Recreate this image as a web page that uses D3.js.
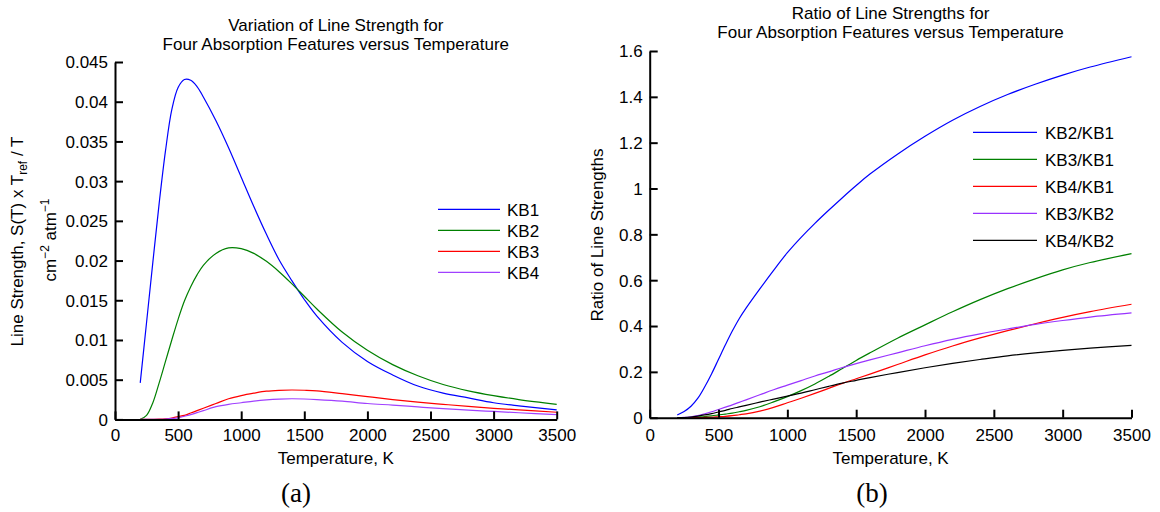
<!DOCTYPE html>
<html>
<head>
<meta charset="utf-8">
<script src="https://cdn.jsdelivr.net/npm/d3@7"></script>
<style>
  body { margin: 0; background: #fff; }
  svg text { font-family: "Liberation Sans", Arial, Helvetica, sans-serif; fill: #000; }
</style>
</head>
<body>
<svg id="fig" width="1160" height="512"></svg>
<script>
// Temperature grid, K
const temperatureK = [200, 250, 300, 350, 400, 450, 500, 550, 600, 650, 700, 800, 900, 1000, 1100,
  1200, 1300, 1400, 1500, 1600, 1800, 2000, 2200, 2400, 2600, 2800, 3000, 3200, 3500];

// (a) line strength S(T) x Tref / T, cm^-2 atm^-1
const kb1 = [0.0046, 0.0122, 0.0198, 0.0272, 0.0338, 0.0390, 0.0418, 0.0428, 0.0427, 0.0419, 0.0406,
  0.0376, 0.0342, 0.0305, 0.0268, 0.0233, 0.0201, 0.0175, 0.0151, 0.0130, 0.0097, 0.0073, 0.0056,
  0.0042, 0.0033, 0.0027, 0.0021, 0.0017, 0.0012];
const kb2 = [0, 0.0005, 0.0021, 0.0046, 0.0073, 0.0100, 0.0126, 0.0149, 0.0167, 0.0182, 0.0194,
  0.0209, 0.0216, 0.0215, 0.0209, 0.0199, 0.0186, 0.0171, 0.0155, 0.0139, 0.0110, 0.0087, 0.0069,
  0.0055, 0.0044, 0.0036, 0.0030, 0.0025, 0.0019];
const kb3 = [0, 0, 0.00001, 0.00003, 0.00008, 0.00018, 0.00035, 0.0005, 0.0008, 0.0011, 0.0014,
  0.0020, 0.0026, 0.0030, 0.0033, 0.00355, 0.00366, 0.0037, 0.00367, 0.0036, 0.00325, 0.00287,
  0.0025, 0.00218, 0.0019, 0.00163, 0.0014, 0.0012, 0.0009];
const kb4 = [0, 0, 0.00001, 0.00002, 0.00005, 0.00012, 0.0002, 0.0004, 0.0006, 0.00085, 0.0011,
  0.0016, 0.0019, 0.0021, 0.0023, 0.00245, 0.00255, 0.0026, 0.00257, 0.0025, 0.0023, 0.0020,
  0.0018, 0.00157, 0.00135, 0.00117, 0.0010, 0.00084, 0.0006];

// (b) ratios of line strengths
const kb2kb1 = [0.012, 0.027, 0.05, 0.085, 0.135, 0.192, 0.255, 0.318, 0.378, 0.432, 0.478, 0.562, 0.643,
  0.72, 0.787, 0.848, 0.905, 0.96, 1.013, 1.063, 1.15, 1.228, 1.298, 1.358, 1.41, 1.455, 1.495, 1.53, 1.575];
const kb3kb1 = [0, 0, 0.001, 0.003, 0.005, 0.008, 0.012, 0.016, 0.02, 0.026, 0.032, 0.048, 0.069,
  0.092, 0.118, 0.147, 0.18, 0.215, 0.25, 0.283, 0.347, 0.405, 0.462, 0.515, 0.563, 0.606, 0.645, 0.677, 0.716];
const kb4kb1 = [0, 0, 0, 0.0005, 0.001, 0.002, 0.004, 0.006, 0.009, 0.013, 0.017, 0.029, 0.045,
  0.065, 0.085, 0.106, 0.128, 0.15, 0.17, 0.19, 0.232, 0.274, 0.313, 0.348, 0.38, 0.41, 0.438, 0.463, 0.495];
const kb3kb2 = [0, 0.001, 0.004, 0.009, 0.017, 0.026, 0.036, 0.046, 0.056, 0.067, 0.078, 0.1, 0.122,
  0.142, 0.162, 0.182, 0.2, 0.219, 0.236, 0.252, 0.283, 0.314, 0.342, 0.366, 0.387, 0.407, 0.424, 0.439, 0.457];
const kb4kb2 = [0, 0.0005, 0.003, 0.007, 0.012, 0.018, 0.025, 0.032, 0.04, 0.047, 0.054, 0.068, 0.081,
  0.094, 0.107, 0.122, 0.137, 0.151, 0.163, 0.175, 0.197, 0.218, 0.237, 0.254, 0.27, 0.283, 0.294, 0.304, 0.316];

// Tick labels
const xTicks = [0, 500, 1000, 1500, 2000, 2500, 3000, 3500];
const yTicksA = [0, 0.005, 0.01, 0.015, 0.02, 0.025, 0.03, 0.035, 0.04, 0.045];
const yTicksB = [0, 0.2, 0.4, 0.6, 0.8, 1, 1.2, 1.4, 1.6];

const seriesA = [
  { name: "KB1", values: kb1, color: "#0000ff" },
  { name: "KB2", values: kb2, color: "#008000" },
  { name: "KB3", values: kb3, color: "#ff0000" },
  { name: "KB4", values: kb4, color: "#a040ff" }
];
const seriesB = [
  { name: "KB2/KB1", values: kb2kb1, color: "#0000ff" },
  { name: "KB3/KB1", values: kb3kb1, color: "#008000" },
  { name: "KB4/KB1", values: kb4kb1, color: "#ff0000" },
  { name: "KB3/KB2", values: kb3kb2, color: "#9933ff" },
  { name: "KB4/KB2", values: kb4kb2, color: "#000000" }
];

const svg = d3.select("#fig");
const FONT = 17;

function panel(cfg) {
  const x = d3.scaleLinear().domain([0, 3500]).range([cfg.left, cfg.right]);
  const y = d3.scaleLinear().domain([0, cfg.yMax]).range([cfg.bottom, cfg.top]);
  const g = svg.append("g");

  // curves
  const line = d3.line()
    .x((d, i) => x(temperatureK[i]))
    .y(d => y(Math.max(0, d)))
    .curve(d3.curveCatmullRom.alpha(0.5));
  cfg.series.forEach(s => {
    g.append("path")
      .attr("d", line(s.values))
      .attr("fill", "none")
      .attr("stroke", s.color)
      .attr("stroke-width", 1.2);
  });

  // x axis
  const gx = g.append("g")
    .attr("transform", `translate(0,${cfg.bottom})`)
    .call(d3.axisBottom(x).tickValues(xTicks).tickFormat(d3.format("d"))
      .tickSizeInner(-8).tickSizeOuter(0));
  gx.selectAll("text")
    .attr("y", 441 - cfg.bottom).attr("dy", null)
    .attr("font-size", FONT);
  gx.attr("font-family", null).attr("font-size", null);

  // y axis
  const gy = g.append("g")
    .attr("transform", `translate(${cfg.left},0)`)
    .call(d3.axisLeft(y).tickValues(cfg.yTicks).tickFormat(d => String(d))
      .tickSizeInner(-8).tickSizeOuter(0).tickPadding(7));
  gy.selectAll("text")
    .attr("dy", "0.35em")
    .attr("font-size", FONT);
  gy.attr("font-family", null).attr("font-size", null);

  g.selectAll(".domain").attr("stroke-width", 2).attr("stroke", "#000");
  g.selectAll(".tick line").attr("stroke-width", 2).attr("stroke", "#000");

  // titles
  const cx = (cfg.left + cfg.right) / 2;
  cfg.title.forEach((t, i) => {
    g.append("text").attr("x", cx).attr("y", cfg.titleY[i])
      .attr("text-anchor", "middle").attr("font-size", FONT).text(t);
  });
  g.append("text").attr("x", cx).attr("y", 463.5)
    .attr("text-anchor", "middle").attr("font-size", FONT).text("Temperature, K");

  // caption
  g.append("text").attr("x", cfg.captionX).attr("y", 502)
    .attr("text-anchor", "middle").attr("font-size", 27)
    .style("font-family", '"Liberation Serif", "Times New Roman", serif')
    .text(cfg.caption);

  // legend
  cfg.series.forEach((s, i) => {
    const ly = cfg.legend.y0 + i * cfg.legend.dy;
    g.append("line")
      .attr("x1", cfg.legend.x1).attr("x2", cfg.legend.x2)
      .attr("y1", ly).attr("y2", ly)
      .attr("stroke", s.color).attr("stroke-width", 1.2);
    g.append("text")
      .attr("x", cfg.legend.tx).attr("y", ly + 6.5)
      .attr("font-size", FONT).text(s.name);
  });
  return g;
}

const gA = panel({
  left: 115, right: 556.7, top: 62, bottom: 419.4, yMax: 0.045,
  yTicks: yTicksA, series: seriesA,
  title: ["Variation of Line Strength for", "Four Absorption Features versus Temperature"],
  titleY: [31, 50], caption: "(a)", captionX: 296,
  legend: { x1: 438, x2: 500, tx: 507, y0: 209.3, dy: 21 }
});

const gB = panel({
  left: 649.7, right: 1131.5, top: 51, bottom: 417.7, yMax: 1.6,
  yTicks: yTicksB, series: seriesB,
  title: ["Ratio of Line Strengths for", "Four Absorption Features versus Temperature"],
  titleY: [19, 38], caption: "(b)", captionX: 872,
  legend: { x1: 973, x2: 1037, tx: 1045, y0: 132.3, dy: 27 }
});

// y-axis label, panel (a)
const la = gA.append("text")
  .attr("transform", "translate(23.4,241.5) rotate(-90)")
  .attr("text-anchor", "middle").attr("font-size", FONT);
la.append("tspan").text("Line Strength, S(T) x T");
la.append("tspan").attr("font-size", 12).attr("dy", 4).text("ref");
la.append("tspan").attr("dy", -4).text(" / T");

const lb = gA.append("text")
  .attr("transform", "translate(55.8,240) rotate(-90)")
  .attr("text-anchor", "middle").attr("font-size", FONT);
lb.append("tspan").text("cm");
lb.append("tspan").attr("font-size", 12).attr("dy", -7).text("\u22122");
lb.append("tspan").attr("dy", 7).text(" atm");
lb.append("tspan").attr("font-size", 12).attr("dy", -7).text("\u22121");

// y-axis label, panel (b)
gB.append("text")
  .attr("transform", "translate(603.2,235) rotate(-90)")
  .attr("text-anchor", "middle").attr("font-size", FONT)
  .text("Ratio of Line Strengths");
</script>
</body>
</html>
